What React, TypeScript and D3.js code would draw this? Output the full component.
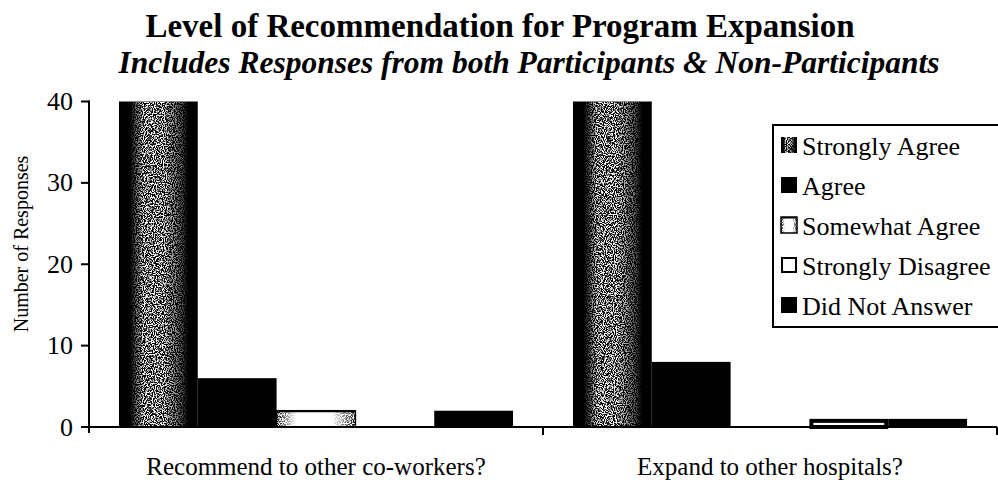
import React from "react";
import * as d3 from "d3";

const categories = ["Recommend to other co-workers?", "Expand to other hospitals?"];
const seriesNames = ["Strongly Agree", "Agree", "Somewhat Agree", "Strongly Disagree", "Did Not Answer"];
const stronglyAgree = [40, 40];
const agree = [6, 8];
const somewhatAgree = [2, 0];
const stronglyDisagree = [0, 1];
const didNotAnswer = [2, 1];
const yTicks = [0, 10, 20, 30, 40];
const titleText = "Level of Recommendation for Program Expansion";
const subtitleText = "Includes Responses from both Participants & Non-Participants";
const yLabel = "Number of Responses";

const seriesValues = [stronglyAgree, agree, somewhatAgree, stronglyDisagree, didNotAnswer];

const W = 998;
const H = 480;
const left = 89;
const right = 997;
const top = 101.5;
const bottom = 427;
const FONT = "Liberation Serif";

export default function App() {
  const x0 = d3.scaleBand<string>().domain(categories).range([left, right]).paddingInner(0).paddingOuter(0);
  const x1 = d3.scaleBand<string>().domain(seriesNames).range([0, x0.bandwidth()]).paddingInner(0).paddingOuter(0.38);
  const y = d3.scaleLinear().domain([0, 40]).range([bottom, top]);

  const renderBar = (s: number, x: number, yTop: number, w: number, h: number, key: string, legend = false) => {
    if (h <= 0) return null;
    if (s === 0) {
      return (
        <g key={key}>
          <rect x={x} y={yTop} width={w} height={h} fill="#000" />
          <rect x={x} y={yTop} width={w} height={h} fill="#fff" filter="url(#speckW)" mask="url(#centerMask)" />
        </g>
      );
    }
    if (s === 1 || s === 4) {
      return <rect key={key} x={x} y={yTop} width={w} height={h} fill="#000" />;
    }
    if (s === 2) {
      return (
        <g key={key}>
          <rect x={x} y={yTop} width={w} height={h} fill="#fff" stroke="#000" strokeWidth={1.5} />
          <rect x={x} y={yTop} width={w} height={h} fill="#000" filter="url(#speckB)" mask="url(#edgeMask)" />
          <line x1={x} x2={x + w} y1={yTop + 0.75} y2={yTop + 0.75} stroke="#000" strokeWidth={1.5} />
        </g>
      );
    }
    if (legend) {
      return <rect key={key} x={x + 1} y={yTop + 1} width={w - 2} height={h - 2} fill="#fff" stroke="#000" strokeWidth={2} />;
    }
    return <rect key={key} x={x + 2} y={yTop + 2} width={w - 4} height={Math.max(h - 2, 0)} fill="#fff" stroke="#000" strokeWidth={4} />;
  };

  const legendTop = 125;
  const legendLeft = 773;

  return (
    <svg width={W} height={H} style={{ position: "absolute", left: 0, top: 0, background: "#fff" }} fontFamily={FONT}>
      <defs>
        <filter id="speckW" x="0" y="0" width="1" height="1">
          <feTurbulence type="fractalNoise" baseFrequency="0.9" numOctaves={1} seed={3} result="n" />
          <feColorMatrix in="n" type="matrix" values="0 0 0 0 1  0 0 0 0 1  0 0 0 0 1  7 0 0 0 -3.1" result="a" />
          <feComposite in="a" in2="SourceGraphic" operator="in" />
        </filter>
        <filter id="speckB" x="0" y="0" width="1" height="1">
          <feTurbulence type="fractalNoise" baseFrequency="0.9" numOctaves={1} seed={5} result="n" />
          <feColorMatrix in="n" type="matrix" values="0 0 0 0 0  0 0 0 0 0  0 0 0 0 0  7 0 0 0 -3.0" result="a" />
          <feComposite in="a" in2="SourceGraphic" operator="in" />
        </filter>
        <linearGradient id="centerGrad" x1="0" x2="1" y1="0" y2="0">
          <stop offset="0" stopColor="#000" />
          <stop offset="0.14" stopColor="#000" />
          <stop offset="0.32" stopColor="#fff" />
          <stop offset="0.55" stopColor="#fff" />
          <stop offset="0.78" stopColor="#666" />
          <stop offset="0.88" stopColor="#000" />
          <stop offset="1" stopColor="#000" />
        </linearGradient>
        <mask id="centerMask" maskContentUnits="objectBoundingBox">
          <rect x="0" y="0" width="1" height="1" fill="url(#centerGrad)" />
        </mask>
        <linearGradient id="edgeGrad" x1="0" x2="1" y1="0" y2="0">
          <stop offset="0" stopColor="#fff" />
          <stop offset="0.25" stopColor="#000" />
          <stop offset="0.7" stopColor="#000" />
          <stop offset="1" stopColor="#fff" />
        </linearGradient>
        <mask id="edgeMask" maskContentUnits="objectBoundingBox">
          <rect x="0" y="0" width="1" height="1" fill="url(#edgeGrad)" />
        </mask>
      </defs>

      <text x={500} y={37} textAnchor="middle" fontSize={33} fontWeight="bold">{titleText}</text>
      <text x={529} y={73} textAnchor="middle" fontSize={31.5} fontWeight="bold" fontStyle="italic">{subtitleText}</text>

      {/* bars */}
      {categories.map((c, ci) => (
        <g key={c}>
          {seriesNames.map((s, si) => {
            const v = seriesValues[si][ci];
            const bx = (x0(c) as number) + (x1(s) as number);
            const bw = x1.bandwidth();
            return renderBar(si, bx, y(v), bw, y(0) - y(v), `${c}-${s}`);
          })}
        </g>
      ))}

      {/* y axis */}
      <line x1={left} x2={left} y1={top - 1} y2={bottom + 6} stroke="#000" strokeWidth={2} />
      {yTicks.map((t) => (
        <g key={t}>
          <line x1={left - 8} x2={left} y1={y(t)} y2={y(t)} stroke="#000" strokeWidth={2} />
          <text x={left - 16} y={y(t)} textAnchor="end" dominantBaseline="central" fontSize={26}>{t}</text>
        </g>
      ))}
      <text transform={`translate(28, 244) rotate(-90)`} textAnchor="middle" fontSize={20}>{yLabel}</text>

      {/* x axis */}
      <line x1={left - 1} x2={right} y1={bottom} y2={bottom} stroke="#000" strokeWidth={2} />
      {categories.map((c) => (
        <line key={c} x1={(x0(c) as number) + x0.bandwidth()} x2={(x0(c) as number) + x0.bandwidth()} y1={bottom} y2={bottom + 8} stroke="#000" strokeWidth={2} />
      ))}
      {categories.map((c) => (
        <text key={c} x={(x0(c) as number) + x0.bandwidth() / 2} y={475} textAnchor="middle" fontSize={25}>{c}</text>
      ))}

      {/* legend */}
      <rect x={legendLeft} y={legendTop} width={260} height={202} fill="#fff" stroke="#000" strokeWidth={2} />
      {seriesNames.map((s, si) => {
        const cy = 145 + si * 40;
        return (
          <g key={s}>
            {renderBar(si, 781, cy - 8, 16, 16, `lg-${s}`, true)}
            <text x={802} y={cy + 1} dominantBaseline="central" fontSize={26}>{s}</text>
          </g>
        );
      })}
    </svg>
  );
}
